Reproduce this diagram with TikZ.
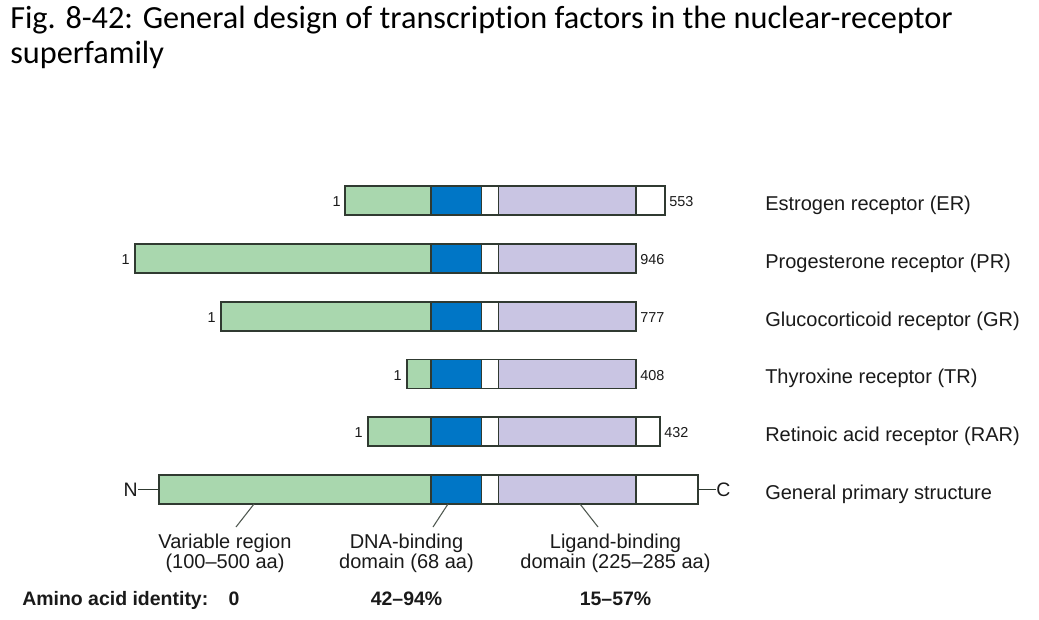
\documentclass[tikz,border=0pt]{standalone}
\usepackage{fontspec}
\setmainfont{Liberation Sans}
\newfontfamily\titlefont[Ligatures=NoCommon]{Carlito}
\definecolor{greenc}{HTML}{A9D7AE}
\definecolor{bluec}{HTML}{0076C6}
\definecolor{lavc}{HTML}{C9C5E3}
\definecolor{edgec}{HTML}{303A31}
\definecolor{txtc}{HTML}{1A1A1A}
\tikzset{
  barline/.style={draw=edgec, line width=1.1pt},
  tickline/.style={draw=edgec!85, line width=0.8pt},
  numlbl/.style={inner sep=0pt, text=txtc, font=\fontsize{10.8}{12}\selectfont},
  rowlbl/.style={inner sep=0pt, anchor=base west, text=txtc, font=\fontsize{15}{18}\selectfont},
  domlbl/.style={inner sep=0pt, anchor=base, align=center, text=txtc, font=\fontsize{15}{15}\selectfont},
  boldlbl/.style={inner sep=0pt, anchor=base, text=txtc, font=\fontsize{14.6}{16}\selectfont\bfseries},
  titlelbl/.style={inner sep=0pt, anchor=base west, text=black, font=\titlefont\fontsize{24.2}{29}\selectfont},
}
% #1 left x, #2 right x, #3 top y, #4 name
\newcommand\receptorbar[4]{%
  \fill[greenc] (#1,#3) rectangle (431,#3+29);
  \fill[bluec] (431,#3) rectangle (481.5,#3+29);
  \fill[white] (481.5,#3) rectangle (498.5,#3+29);
  \fill[lavc] (498.5,#3) rectangle (636,#3+29);
  \draw[barline] (431,#3) -- (431,#3+29) (481.5,#3) -- (481.5,#3+29) (498.5,#3) -- (498.5,#3+29) (636,#3) -- (636,#3+29);
  \draw[barline] (#1,#3) rectangle (#2,#3+29);
  \coordinate (#4-l) at (#1,#3+14.5);
  \coordinate (#4-r) at (#2,#3+14.5);
}
\begin{document}
\begin{tikzpicture}[x=0.75pt,y=-0.75pt]
\useasboundingbox[fill=white] (0,0) rectangle (1039,619);

% title
\node[titlelbl] (title1) at (10,28) {Fig. 8-42: General design of transcription factors in the nuclear-receptor};
\node[titlelbl] (title2) at (10,63) {superfamily};

% bars
\receptorbar{345}{665}{186}{er}
\receptorbar{135}{636}{244}{pr}
\receptorbar{221}{636}{302}{gr}
\receptorbar{407}{636}{359.5}{tr}
\receptorbar{368}{660}{417}{rar}
\receptorbar{159}{698}{475}{gen}

% start / end numbers
\node[numlbl, anchor=base east] (er1) at (341,206.5) {1};
\node[numlbl, anchor=base west] (er2) at (669,206.5) {553};
\node[numlbl, anchor=base east] (pr1) at (130,264.5) {1};
\node[numlbl, anchor=base west] (pr2) at (640,264.5) {946};
\node[numlbl, anchor=base east] (gr1) at (216,322.5) {1};
\node[numlbl, anchor=base west] (gr2) at (640,322.5) {777};
\node[numlbl, anchor=base east] (tr1) at (402,380) {1};
\node[numlbl, anchor=base west] (tr2) at (640,380) {408};
\node[numlbl, anchor=base east] (rar1) at (363,437.5) {1};
\node[numlbl, anchor=base west] (rar2) at (664,437.5) {432};

% N and C termini
\node[rowlbl, anchor=base east, font=\fontsize{14.6}{16}\selectfont] (nterm) at (138,496.5) {N};
\node[rowlbl, anchor=base west, font=\fontsize{14.6}{16}\selectfont] (cterm) at (716,496.5) {C};
\draw[barline, line width=0.8pt] (nterm.east |- gen-l) -- (gen-l);
\draw[barline, line width=0.8pt] (gen-r) -- (cterm.west |- gen-r);

% row labels
\node[rowlbl] (erl) at (765,210) {Estrogen receptor (ER)};
\node[rowlbl] (prl) at (765,268) {Progesterone receptor (PR)};
\node[rowlbl] (grl) at (765,326) {Glucocorticoid receptor (GR)};
\node[rowlbl] (trl) at (765,383.5) {Thyroxine receptor (TR)};
\node[rowlbl] (rarl) at (765,441) {Retinoic acid receptor (RAR)};
\node[rowlbl] (genl) at (765,499) {General primary structure};

% domain labels (base = last line)
\node[domlbl] (varl) at (225,568.5) {Variable region\\(100--500 aa)};
\node[domlbl] (dnal) at (406.5,568.5) {DNA-binding\\domain (68 aa)};
\node[domlbl] (ligl) at (615.5,568.5) {Ligand-binding\\domain (225--285 aa)};

\coordinate (vt1) at (254,504);
\coordinate (vt2) at (236,527);
\coordinate (dt1) at (448,504);
\coordinate (dt2) at (433,527);
\coordinate (lt1) at (580,504);
\coordinate (lt2) at (598,527);
\draw[tickline] (vt1) -- (vt2);
\draw[tickline] (dt1) -- (dt2);
\draw[tickline] (lt1) -- (lt2);

% identity row
\node[boldlbl, anchor=base west] (idl) at (22,605) {Amino acid identity:};
\node[boldlbl] (id0) at (234,605) {0};
\node[boldlbl] (id1) at (406.5,605) {42--94\%};
\node[boldlbl] (id2) at (615.5,605) {15--57\%};
\end{tikzpicture}
\end{document}
